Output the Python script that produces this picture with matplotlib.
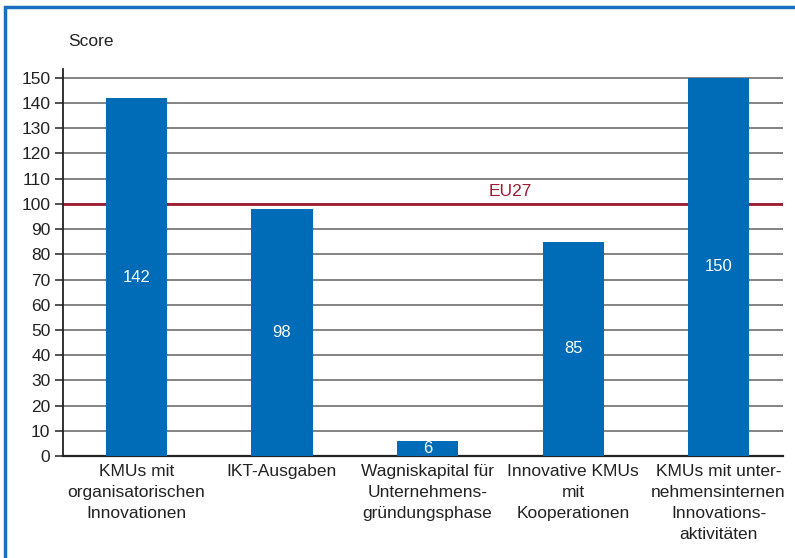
import matplotlib.pyplot as plt
from matplotlib.patches import Rectangle

categories = [
    "KMUs mit\norganisatorischen\nInnovationen",
    "IKT-Ausgaben",
    "Wagniskapital für\nUnternehmens-\ngründungsphase",
    "Innovative KMUs\nmit\nKooperationen",
    "KMUs mit unter-\nnehmensinternen\nInnovations-\naktivitäten",
]
scores = [142, 98, 6, 85, 150]
eu_reference = 100
y_ticks = list(range(0, 151, 10))

blue = "#006bb6"
red = "#9e1b32"

plt.rcParams['font.family'] = ['Liberation Sans', 'DejaVu Sans']

fig = plt.figure(figsize=(7.95, 5.58), dpi=100)
ax = fig.add_axes([0.0792, 0.1828, 0.9058, 0.6935])

# blue frame around the figure (top and left visible)
fig.patches.append(Rectangle((0.0065, -0.1), 1.2, 1.087, transform=fig.transFigure,
                             fill=False, edgecolor="#1a6fbf", linewidth=2.5))

x = list(range(len(categories)))
ax.bar(x, scores, width=0.42, color=blue, zorder=3)
for xi, val in zip(x, scores):
    ax.text(xi, val / 2, str(val), ha='center', va='center', color='white',
            fontsize=12, zorder=4)

for t in y_ticks[1:]:
    ax.axhline(t, color='#6e6e6e', linewidth=1.2, zorder=1)
ax.axhline(eu_reference, color=red, linewidth=2, zorder=2)
ax.text(2.57, eu_reference + 2, "EU27", color=red, fontsize=12.5,
        ha='center', va='bottom')

ax.set_xlim(-0.505, 4.443)
ax.set_ylim(0, 153.5)
ax.set_yticks(y_ticks)
ax.set_xticks(x)
ax.set_xticklabels(categories, fontsize=12.5, color='#222222', linespacing=1.5)
ax.tick_params(axis='x', length=0, pad=6)
ax.tick_params(axis='y', length=6, width=1.2, color='#333333', labelsize=12.5,
               labelcolor='#222222', pad=3)

for side in ['top', 'right']:
    ax.spines[side].set_visible(False)
ax.spines['left'].set_linewidth(1.3)
ax.spines['left'].set_color('#222222')
ax.spines['bottom'].set_linewidth(1.6)
ax.spines['bottom'].set_color('#222222')

fig.text(0.0855, 0.912, "Score", fontsize=12.5, color='#222222', ha='left', va='bottom')

plt.savefig("out.png", dpi=100)
